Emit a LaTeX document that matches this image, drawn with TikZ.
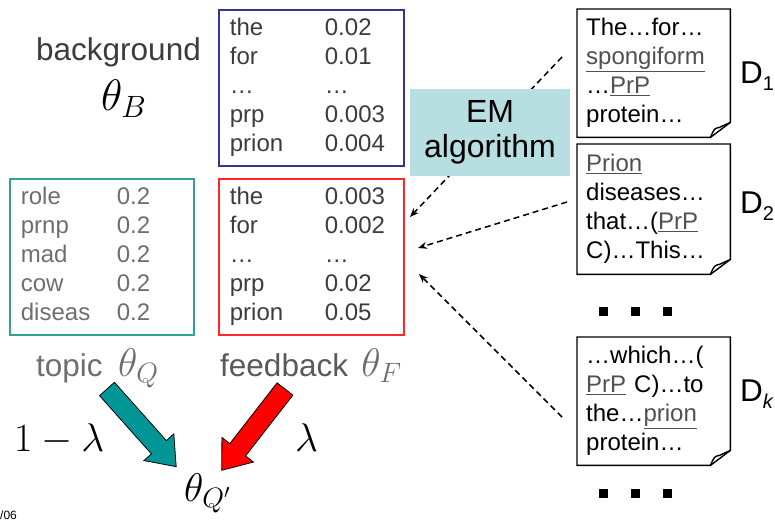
\documentclass[tikz,border=0pt]{standalone}
\usepackage{fix-cm}
\usepackage{fontspec}
\setmainfont{Liberation Sans}
\usetikzlibrary{positioning,calc,arrows.meta}

\definecolor{bgblue}{RGB}{51,51,153}
\definecolor{topicteal}{RGB}{51,160,160}
\definecolor{fbred}{RGB}{255,40,40}
\definecolor{emfill}{RGB}{183,222,224}
\definecolor{arrteal}{RGB}{0,150,150}
\definecolor{txtgray}{RGB}{60,60,60}
\definecolor{litegray}{RGB}{110,110,110}
\definecolor{ulgray}{RGB}{80,80,80}

\tikzset{
  wordtab/.style={draw, line width=1.8pt, anchor=north west, minimum height=156pt,
    text width=163pt, inner xsep=11pt, inner ysep=0pt, align=left,
    font=\fontsize{24}{29}\selectfont},
  docbox/.style={anchor=north west, minimum width=153pt, text width=135pt,
    inner xsep=9pt, inner ysep=0pt, align=left, font=\fontsize{24}{29}\selectfont},
  lab/.style={inner sep=0pt, font=\fontsize{31.5}{33}\selectfont},
  mathlab/.style={inner sep=0pt, font=\fontsize{40}{40}\selectfont},
  feed/.style={-{Stealth[length=9pt,width=7pt]}, line width=1.5pt, dash pattern=on 6pt off 4pt},
  fat/.style={draw=black, line width=0.8pt},
}
\newcommand{\uw}[1]{\textcolor{ulgray}{\underline{#1}}}
\newcommand{\docframe}[1]{%
  \draw[line width=1.4pt] (#1.north west) -- (#1.north east) -- ($(#1.south east)+(0,-15)$)
    -- ($(#1.south east)+(-20,0)$) -- (#1.south west) -- cycle;
  \draw[line width=1.4pt] ($(#1.south east)+(-20,0)$) .. controls ($(#1.south east)+(-16,-9)$)
    .. ($(#1.south east)+(-11,-10)$) -- ($(#1.south east)+(0,-15)$);}

\begin{document}
\begin{tikzpicture}[x=1pt,y=-1pt]
  \useasboundingbox (0,0) rectangle (775,521);

  % word distributions
  \node[wordtab, draw=bgblue, text=txtgray] (bgtab) at (218,9) {%
    \begin{tabular}{@{}p{95pt}@{}l@{}}
      the & 0.02\\ for & 0.01\\ \dots & \dots\\ prp & 0.003\\ prion & 0.004
    \end{tabular}};
  \node[wordtab, draw=fbred, text=txtgray] (fbtab) at (218,178) {%
    \begin{tabular}{@{}p{95pt}@{}l@{}}
      the & 0.003\\ for & 0.002\\ \dots & \dots\\ prp & 0.02\\ prion & 0.05
    \end{tabular}};
  \node[wordtab, draw=topicteal, text=litegray, text width=162pt] (qtab) at (9,178) {%
    \begin{tabular}{@{}p{96pt}@{}l@{}}
      role & 0.2\\ prnp & 0.2\\ mad & 0.2\\ cow & 0.2\\ diseas & 0.2
    \end{tabular}};

  % labels
  \node[lab, anchor=base west, text=txtgray] (bglab) at (36,61) {background};
  \node[mathlab, font=\fontsize{44}{44}\selectfont, anchor=base west] (thb) at (101,111) {$\theta_B$};
  \node[lab, anchor=base west, text=litegray] (toplab) at (36,376) {topic};
  \node[mathlab, base right=15pt of toplab, text=litegray] (thq) {$\theta_Q$};
  \node[lab, anchor=base west, text=txtgray!85] (fblab) at (220,376) {feedback};
  \node[mathlab, base right=13pt of fblab, text=litegray] (thf) {$\theta_F$};
  \node[mathlab, anchor=base west] (oml) at (14,451) {$1-\lambda$};
  \node[mathlab, anchor=base west] (lam) at (295,451) {$\lambda$};
  \node[mathlab, anchor=base west] (thqp) at (184,501) {$\theta_{Q'}$};

  % feedback documents
  \node[docbox, minimum height=128pt] (d1) at (577,9) {The\dots for\dots\\ \uw{spongiform}\\ \dots\uw{PrP}\\ protein\dots};
  \node[docbox, minimum height=130pt] (d2) at (577,144) {\uw{Prion}\\ diseases\dots\\ that\dots(\uw{PrP}\\ C)\dots This\dots};
  \node[docbox, minimum height=128pt] (dk) at (577,337) {\dots which\dots(\\ \uw{PrP} C)\dots to\\ the\dots\uw{prion}\\ protein\dots};
  \docframe{d1}
  \docframe{d2}
  \docframe{dk}
  \node[lab, anchor=base west] (d1lab) at (740,84) {D\raisebox{-7pt}{\fontsize{20}{20}\selectfont 1}};
  \node[lab, anchor=base west] (d2lab) at (740,213) {D\raisebox{-7pt}{\fontsize{20}{20}\selectfont 2}};
  \node[lab, anchor=base west] (dklab) at (740,401) {D\raisebox{-7pt}{\fontsize{20}{20}\selectfont\itshape k}};
  \foreach \x in {599,631,663} {
    \fill (\x,307) rectangle +(9,9);
    \fill (\x,489) rectangle +(9,9);
  }

  % EM estimation
  \coordinate (s1) at (562,57);
  \coordinate (t1) at (410,217);
  \coordinate (s2) at (567,202);
  \coordinate (t2) at (418,248);
  \coordinate (sk) at (562,417);
  \coordinate (tk) at (419,274);
  \draw[feed] (s1) -- (t1);
  \draw[feed] (s2) -- (t2);
  \draw[feed] (sk) -- (tk);
  \node[fill=emfill, minimum width=160pt, minimum height=87pt, align=center,
    font=\fontsize{32}{35}\selectfont] (em) at (490,132.5) {EM\\algorithm};

  % interpolation
  \coordinate (qtail) at (107,389);
  \coordinate (ftail) at (285,389);
  \begin{scope}[shift={(qtail)}, rotate=-48.3]
    \draw[fat, fill=arrteal] (0,-10) -- (78,-10) -- (78,-20) -- (104,0) -- (78,20) -- (78,10) -- (0,10) -- cycle;
  \end{scope}
  \begin{scope}[shift={(ftail)}, rotate=-127.9]
    \draw[fat, fill=red] (0,-10) -- (77,-10) -- (77,-20) -- (103,0) -- (77,20) -- (77,10) -- (0,10) -- cycle;
  \end{scope}

  \node[anchor=south west, inner sep=0pt, font=\fontsize{12}{12}\selectfont] (foot) at (0,520) {/06};
\end{tikzpicture}
\end{document}
